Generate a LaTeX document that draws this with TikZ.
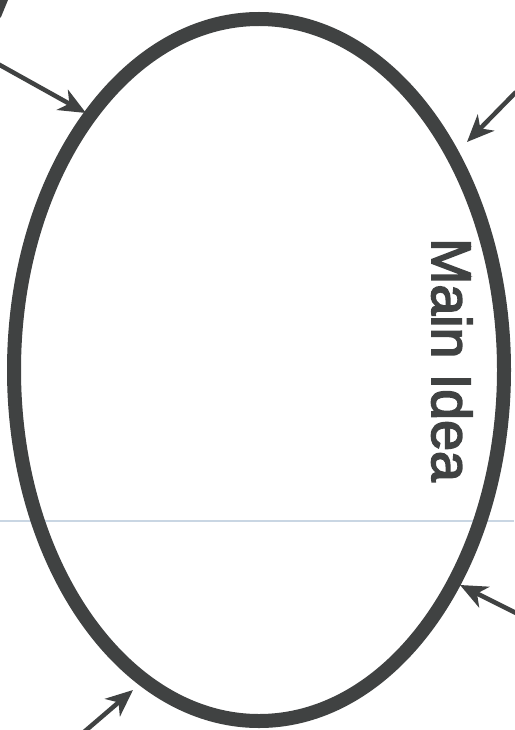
\documentclass[tikz,border=0pt]{standalone}
\usepackage{fontspec}
\setmainfont{Liberation Sans}
\newfontfamily\heavysans[FakeBold=3]{Liberation Sans}
\usetikzlibrary{shapes.geometric,arrows.meta}
\definecolor{ink}{HTML}{404242}
\definecolor{scanline}{HTML}{C9D6E3}
\tikzset{
  bigoval/.style={ellipse, draw=ink, line width=14pt, minimum width=490pt, minimum height=702pt, inner sep=0pt},
  pointer/.style={draw=ink, line width=4.5pt, -{Stealth[length=27pt, width=23pt, inset=8pt]}},
  label/.style={text=ink, font=\heavysans\fontsize{55.5}{60}\selectfont, rotate=-90, anchor=base west, inner sep=0pt}
}
\begin{document}
\begin{tikzpicture}[x=1pt, y=-1pt]
\useasboundingbox (0,0) rectangle (514,730);
\fill[white] (0,0) rectangle (514,730);
\draw[scanline, line width=2pt] (0,521) -- (514,521);
\node[bigoval] (main) at (259,370) {};
\node[label] (idea) at (432,238) {Main Idea};
\fill[ink] (0,0) -- (8,0) -- (1,17) -- (0,18) -- cycle;
\coordinate (s1) at (-2,64);
\coordinate (t1) at (86,113);
\coordinate (s2) at (516,92);
\coordinate (t2) at (467,142);
\coordinate (s3) at (516,613);
\coordinate (t3) at (460,585);
\coordinate (s4) at (84,732);
\coordinate (t4) at (133,690);
\draw[pointer] (s1) -- (t1);
\draw[pointer] (s2) -- (t2);
\draw[pointer] (s3) -- (t3);
\draw[pointer] (s4) -- (t4);
\end{tikzpicture}
\end{document}
